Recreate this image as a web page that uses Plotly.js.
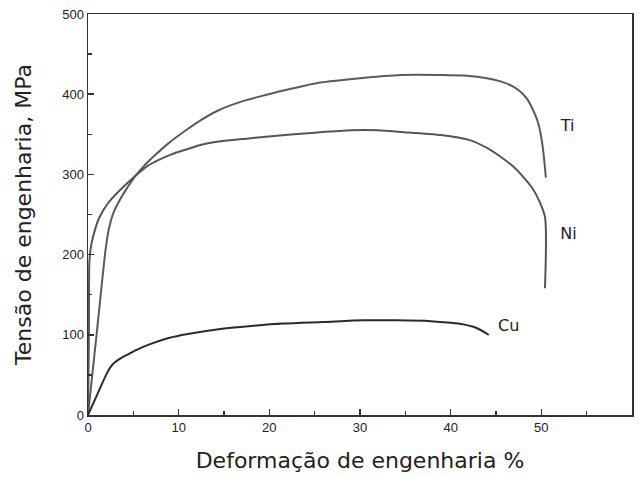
<!DOCTYPE html>
<html>
<head>
<meta charset="utf-8">
<script src="https://cdn.plot.ly/plotly-3.0.1.min.js"></script>
<style>html,body{margin:0;padding:0;background:#fff;}#chart{width:639px;height:477px;}</style>
</head>
<body>
<div id="chart"></div>
<script>
const tiX = [0, 1.0, 1.95, 2.3, 2.8, 3.4, 4.2, 5.3, 6.2, 7.2, 8.9, 10.8, 12.5, 14.4, 17, 19.6, 22.5, 25.3, 30, 34.5, 38.9, 41.8, 44, 45.5, 46.8, 47.7, 48.5, 49.1, 49.6, 49.9, 50.2, 50.5];
const tiY = [0, 106, 207, 232, 252, 266, 281, 299, 311, 322, 339, 355, 368, 380, 391, 399, 407, 414, 420, 424, 424, 423, 420, 416, 410, 403, 393, 380, 366, 352, 330, 296];
const niX = [0, 0.1, 0.15, 0.3, 0.6, 1.2, 2.2, 3.4, 5.3, 6.5, 7.8, 9.2, 10.8, 12.5, 14.4, 17, 19.6, 25, 29, 32, 34.5, 38.9, 42, 44, 45.5, 47, 48, 49, 49.8, 50.4, 50.4];
const niY = [0, 100, 190, 208, 224, 245, 264, 279, 299, 310, 318, 325, 331, 337, 341, 344, 347, 352, 355, 355, 353, 349, 343, 333, 322, 309, 297, 283, 266, 247, 158];
const cuX = [0, 1, 2, 2.5, 3, 3.5, 4.3, 5.3, 7, 8.9, 11, 14.4, 18, 21.5, 26, 30.4, 34, 37.8, 40, 41.4, 42.5, 43.3, 44.2];
const cuY = [0, 25, 50, 60, 66, 70, 75, 81, 89, 96, 101, 107, 111, 114, 116, 118, 118, 117, 115, 113, 110, 106, 100];
const labelText = ["Ti", "Ni", "Cu"];
const labelX = [52.9, 53.0, 46.4];
const labelY = [359, 224, 110];

const lineStyle = (c) => ({color: c, width: 2, shape: 'spline', smoothing: 0.8});
const traces = [
  {x: tiX, y: tiY, mode: 'lines', line: lineStyle('#5a5a5a'), name: 'Ti'},
  {x: niX, y: niY, mode: 'lines', line: lineStyle('#555555'), name: 'Ni'},
  {x: cuX, y: cuY, mode: 'lines', line: lineStyle('#2a2a2a'), name: 'Cu'},
  {x: labelX, y: labelY, mode: 'text', text: labelText, textposition: 'middle center',
   textfont: {family: 'DejaVu Sans, sans-serif', size: 16, color: '#222'}, hoverinfo: 'skip'}
];
const axisCommon = {
  showgrid: false, zeroline: false, showline: true, linecolor: '#333', linewidth: 1.5,
  mirror: true, ticks: 'inside', ticklen: 6, tickwidth: 1.5, tickcolor: '#333',
  tickfont: {family: 'Liberation Sans, Arial, sans-serif', size: 13, color: '#222'}
};
const layout = {
  width: 639, height: 477,
  margin: {l: 88, r: 7, t: 14, b: 62},
  paper_bgcolor: '#fff', plot_bgcolor: '#fff',
  showlegend: false,
  xaxis: Object.assign({}, axisCommon, {
    range: [0, 60], tickmode: 'linear', dtick: 10, tick0: 0,
    minor: {dtick: 5, ticks: 'inside', ticklen: 4, tickcolor: '#333', tickwidth: 1.5},
    title: {text: 'Deformação de engenharia %', standoff: 18,
            font: {family: 'DejaVu Sans, sans-serif', size: 22, color: '#222'}}
  }),
  yaxis: Object.assign({}, axisCommon, {
    range: [0, 500], tickmode: 'linear', dtick: 100, tick0: 0,
    minor: {dtick: 50, ticks: 'inside', ticklen: 4, tickcolor: '#333', tickwidth: 1.5},
    title: {text: 'Tensão de engenharia, MPa', standoff: 24,
            font: {family: 'DejaVu Sans, sans-serif', size: 22, color: '#222'}}
  })
};
Plotly.newPlot('chart', traces, layout, {displayModeBar: false, staticPlot: true});
</script>
</body>
</html>
